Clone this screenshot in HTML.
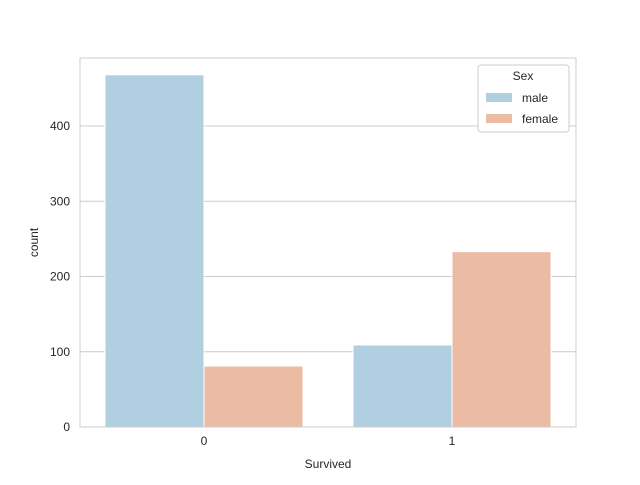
<!DOCTYPE html>
<html><head><meta charset="utf-8"><style>
body{margin:0;background:#fff;}
svg text{font-family:"Liberation Sans",Arial,sans-serif;fill:#262626;}
</style></head><body>
<svg id="chart" width="640" height="480">
<rect x="80" y="58" width="496" height="369" fill="#fff"/>
<g id="grid"></g><g id="bars"></g>
<rect x="80" y="58" width="496" height="369" fill="none" stroke="#cccccc" stroke-width="1"/>
<g id="ticks"></g>
<text x="328" y="468" font-size="12" text-anchor="middle">Survived</text>
<text transform="translate(38,242.5) rotate(-90)" font-size="12" text-anchor="middle">count</text>
<g>
<rect x="478" y="65" width="91" height="67" rx="3" fill="#fff" stroke="#cccccc"/>
<text x="523" y="80" font-size="12" text-anchor="middle">Sex</text>
<rect x="486" y="93" width="26" height="9" fill="#b0cfe0"/>
<text x="522" y="102" font-size="12">male</text>
<rect x="486" y="114" width="26" height="9" fill="#ecbba3"/>
<text x="522" y="123" font-size="12">female</text>
</g>
</svg>
<script>
const categories=["0","1"];
const maleValues=[468,109];
const femaleValues=[81,233];
const yTicks=[0,100,200,300,400];
const NS="http://www.w3.org/2000/svg";
const y=v=>427-v*0.7525;
const xc=i=>204+i*248;
const bw=99;
function mk(t,a,p){const e=document.createElementNS(NS,t);for(const k in a)e.setAttribute(k,a[k]);p.appendChild(e);return e;}
const grid=document.getElementById('grid'),bars=document.getElementById('bars'),ticks=document.getElementById('ticks');
yTicks.forEach(v=>{
  const l=mk('line',{x1:80,x2:576,y1:y(v),y2:y(v),stroke:'#cccccc'},grid);
  
  
  const t=mk('text',{x:70,y:y(v)+4,'font-size':12,'text-anchor':'end'},ticks);
  t.textContent=v;
  
  
});
categories.forEach((c,i)=>{
  const m=mk('rect',{x:xc(i)-bw,y:y(maleValues[i]),width:bw,height:y(0)-y(maleValues[i]),fill:'#b0cfe0',stroke:'#fff','stroke-width':1},bars);
  
  
  const f=mk('rect',{x:xc(i),y:y(femaleValues[i]),width:bw,height:y(0)-y(femaleValues[i]),fill:'#ecbba3',stroke:'#fff','stroke-width':1},bars);
  
  
  const t=mk('text',{x:xc(i),y:445,'font-size':12,'text-anchor':'middle'},ticks);
  t.textContent=c;
  
  
});
</script>
</body></html>
